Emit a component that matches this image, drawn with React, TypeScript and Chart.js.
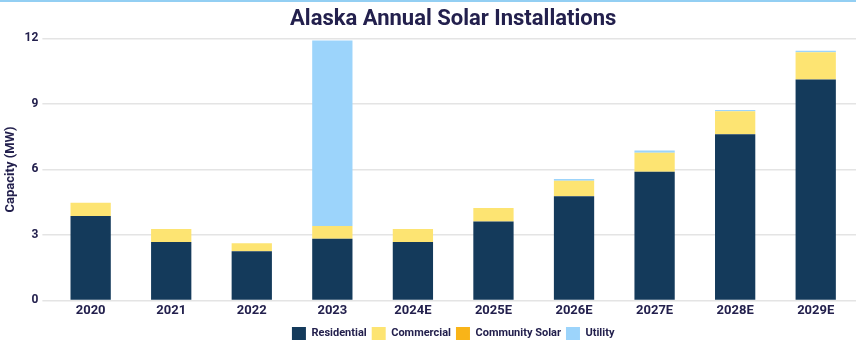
import React, { useEffect, useRef } from "react";
import { Chart, registerables } from "chart.js";

Chart.register(...registerables);

const years = ["2020", "2021", "2022", "2023", "2024E", "2025E", "2026E", "2027E", "2028E", "2029E"];
const residential = [3.87, 2.67, 2.25, 2.82, 2.68, 3.61, 4.77, 5.89, 7.61, 10.12];
const commercial = [0.6, 0.6, 0.37, 0.59, 0.59, 0.62, 0.71, 0.87, 1.05, 1.25];
const communitySolar = [0, 0, 0, 0, 0, 0, 0, 0, 0, 0];
const utility = [0, 0, 0, 8.49, 0, 0, 0.08, 0.11, 0.06, 0.06];
const yTicks = [0, 3, 6, 9, 12];

const TEXT = "#23204d";
const FONT = "Roboto";

const centerOnArea = {
  id: "centerOnArea",
  afterLayout(chart: any) {
    const ca = chart.chartArea;
    const shift = (box: any) => {
      if (!box) return;
      const w = box.right - box.left;
      const c = (ca.left + ca.right) / 2;
      box.left = c - w / 2;
      box.right = c + w / 2;
    };
    shift(chart.titleBlock);
    shift(chart.legend);
  },
  beforeDraw(chart: any) {
    const ctx = chart.ctx;
    ctx.save();
    ctx.fillStyle = "#ffffff";
    ctx.fillRect(0, 0, chart.width, chart.height);
    ctx.fillStyle = "#93cff3";
    ctx.fillRect(0, 0, chart.width, 2);
    ctx.restore();
  },
};

export default function App() {
  const ref = useRef<HTMLCanvasElement | null>(null);
  useEffect(() => {
    if (!ref.current) return;
    const chart = new Chart(ref.current, {
      type: "bar",
      data: {
        labels: years,
        datasets: [
          { label: "Residential", data: residential, backgroundColor: "#143a5b" },
          { label: "Commercial", data: commercial, backgroundColor: "#fde472" },
          { label: "Community Solar", data: communitySolar, backgroundColor: "#f9b418" },
          { label: "Utility", data: utility, backgroundColor: "#9cd4fb" },
        ],
      },
      plugins: [centerOnArea],
      options: {
        responsive: false,
        animation: false,
        layout: { padding: { left: 3, right: 0, top: 4, bottom: 0 } },
        datasets: { bar: { barPercentage: 0.5, categoryPercentage: 1 } },
        plugins: {
          title: {
            display: true,
            text: "Alaska Annual Solar Installations",
            color: TEXT,
            font: { family: FONT, size: 22, weight: "bold" },
            padding: { top: 2, bottom: 6 },
          },
          legend: {
            position: "bottom",
            labels: {
              color: TEXT,
              boxWidth: 14,
              boxHeight: 13,
              padding: 5,
              font: { family: FONT, size: 11, weight: "bold" },
            },
          },
          tooltip: { enabled: false },
        },
        scales: {
          x: {
            stacked: true,
            grid: { display: false, drawTicks: false },
            border: { display: false },
            ticks: { color: TEXT, font: { family: FONT, size: 13, weight: "bold" }, padding: 3 },
          },
          y: {
            stacked: true,
            min: 0,
            max: 12,
            afterBuildTicks: (axis: any) => {
              axis.ticks = yTicks.map((v) => ({ value: v }));
            },
            grid: { color: "#e4e4e4", lineWidth: 1.5, drawTicks: true, tickLength: 8 },
            border: { display: false },
            ticks: { color: TEXT, font: { family: FONT, size: 12, weight: "bold" }, padding: 4 },
            title: {
              display: true,
              text: "Capacity (MW)",
              color: TEXT,
              font: { family: FONT, size: 13, weight: "bold" },
              padding: { top: 0, bottom: 2 },
            },
          },
        },
      },
    });
    return () => chart.destroy();
  }, []);
  return (
    <div style={{ position: "absolute", left: 0, top: 0, width: 856, height: 350 }}>
      <canvas ref={ref} width={856} height={350} style={{ display: "block" }} />
    </div>
  );
}
